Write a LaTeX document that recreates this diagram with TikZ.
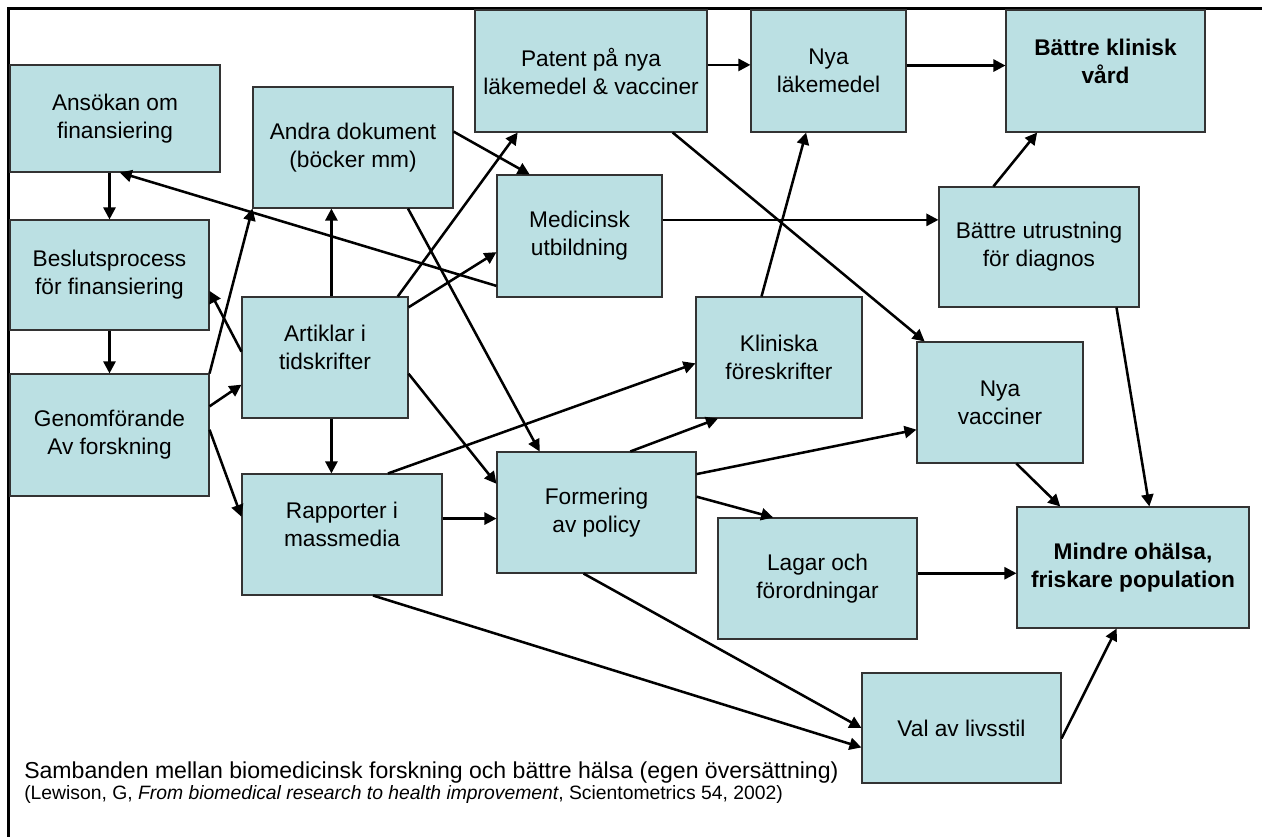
\documentclass[tikz,border=0pt]{standalone}
\usepackage{fontspec}
\setmainfont{Liberation Sans}
\usepackage{tikz}
\usetikzlibrary{arrows.meta}
\definecolor{boxfill}{RGB}{187,224,227}

\begin{document}
\begin{tikzpicture}[x=0.75pt, y=-0.75pt,
  block/.style={rectangle, draw=black!80, line width=0.8pt, fill=boxfill, align=center, inner sep=2pt, minimum height=90.75pt, font=\fontsize{17pt}{21pt}\selectfont},
  raised/.style={text depth=15pt},
  arr/.style={line width=1.9pt, -{Triangle[length=9pt,width=9pt]}}]
\useasboundingbox (0,0) rectangle (1262,837);
\draw [line width=2pt] (8.5,837) -- (8.5,8.5) -- (1262,8.5);

\node [block, minimum width=157.5pt, minimum height=80.25pt] (ansokan) at (115,118.5) {Ansökan om\\finansiering};
\node [block, minimum width=149.25pt, minimum height=82.5pt] (beslut) at (109.5,275) {Beslutsprocess\\för finansiering};
\node [block, minimum width=149.25pt, minimum height=91.5pt] (genom) at (109.5,435) {Genomförande\\Av forskning};
\node [block, minimum width=150pt] (andra) at (353,147.5) {Andra dokument\\(böcker mm)};
\node [block, raised, minimum width=124.5pt] (artiklar) at (325,357.5) {Artiklar i\\tidskrifter};
\node [block, raised, minimum width=150pt] (rapporter) at (342,534.5) {Rapporter i\\massmedia};
\node [block, minimum width=174pt, minimum height=91.5pt] (patent) at (591,71) {Patent på nya\\läkemedel \& vacciner};
\node [block, minimum width=123.75pt, minimum height=91.5pt] (medicinsk) at (579.5,236) {Medicinsk\\utbildning};
\node [block, minimum width=149.25pt] (formering) at (596.5,512.5) {Formering\\av policy};
\node [block, minimum width=116.25pt, minimum height=91.5pt] (lakemedel) at (828.5,71) {Nya\\läkemedel};
\node [block, minimum width=124.5pt] (kliniska) at (779,357.5) {Kliniska\\föreskrifter};
\node [block, minimum width=149.25pt] (lagar) at (817.5,578.5) {Lagar och\\förordningar};
\node [block, raised, minimum width=149.25pt, minimum height=91.5pt, font=\fontsize{17pt}{21pt}\selectfont\bfseries] (vard) at (1105.5,71) {Bättre klinisk\\vård};
\node [block, minimum width=150pt, minimum height=90pt] (utrustning) at (1039,247) {Bättre utrustning\\för diagnos};
\node [block, minimum width=124.5pt] (vacciner) at (1000,402.5) {Nya\\vacciner};
\node [block, minimum width=174pt, font=\fontsize{17pt}{21pt}\selectfont\bfseries] (mindre) at (1133,567.5) {Mindre ohälsa,\\friskare population};
\node [block, minimum width=149.25pt, minimum height=82.5pt] (val) at (961.5,728) {Val av livsstil};

\node [anchor=base west, inner sep=0pt, font=\fontsize{17.3pt}{21pt}\selectfont] (caption) at (24,778) {Sambanden mellan biomedicinsk forskning och bättre hälsa (egen översättning)};
\node [anchor=base west, inner sep=0pt, font=\fontsize{14.5pt}{17pt}\selectfont] (source) at (24,799) {(Lewison, G, \textit{From biomedical research to health improvement}, Scientometrics 54, 2002)};

\draw [arr] (ansokan.south -| beslut.north) -- (beslut.north);
\draw [arr] (beslut) -- (genom);
\draw [arr] (genom.16) -- (artiklar.198);
\draw [arr] (genom.3) -- (rapporter.170);
\draw [arr] (genom.north east) -- (andra.south west);
\draw [arr] (artiklar.176) -- (beslut.351);
\draw [arr] (artiklar.84) -- (artiklar.84 |- andra.south);
\draw [arr] (artiklar.276) -- (artiklar.276 |- rapporter.north);
\draw [arr] (artiklar.40) -- (patent.220);
\draw [arr] (artiklar.31) -- (medicinsk.191);
\draw [arr] (medicinsk.211) -- (ansokan.275);
\draw [arr] (andra.9) -- (medicinsk.129);
\draw [arr] (andra.312) -- (formering.133);
\draw [arr] (artiklar.349) -- (formering.164);
\draw [arr] (rapporter.9) -- (rapporter.9 -| formering.west);
\draw [arr] (rapporter.53) -- (kliniska.184);
\draw [arr] (formering.61) -- (kliniska.225);
\draw [arr] (formering.21) -- (vacciner.198);
\draw [arr] (formering.9) -- (lagar.126);
\draw [arr] (formering.258) -- (val.west);
\draw [arr] (rapporter.297) -- (val.191);
\draw [arr] (val.354) -- (mindre.255);
\draw [arr] (lagar.3) -- (lagar.3 -| mindre.west);
\draw [arr] (vacciner.285) -- (mindre.140);
\draw [arr] (utrustning.322) -- (mindre.75);
\draw [arr] (utrustning.127) -- (vard.222);
\draw [arr] (medicinsk.11) -- (medicinsk.11 -| utrustning.west);
\draw [arr] (patent.3) -- (patent.3 -| lakemedel.west);
\draw [arr] (lakemedel.4) -- (lakemedel.4 -| vard.west);
\draw [arr] (kliniska.106) -- (lakemedel.250);
\draw [arr] (patent.323) -- (vacciner.141);

\end{tikzpicture}
\end{document}
